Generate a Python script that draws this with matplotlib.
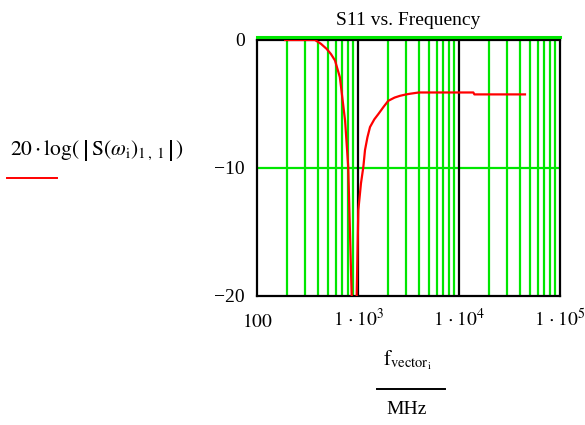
import matplotlib
matplotlib.use("Agg")
import matplotlib.pyplot as plt
import matplotlib.transforms as mtransforms
from matplotlib.lines import Line2D

plt.rcParams['font.family'] = ['Liberation Serif', 'DejaVu Serif']
plt.rcParams['mathtext.fontset'] = 'stix'

# S11 (frequency in MHz, magnitude in dB)
freq_mhz = [190, 250, 320, 375, 430, 490, 540, 592, 661, 745, 800, 866, 915,
            970, 1007, 1070, 1130, 1173, 1240, 1315, 1450, 1585, 1800, 1995,
            2300, 2606, 3000, 3270, 4000, 6000, 10000, 13870, 14200, 30000, 45000]
s11_db = [0.0, 0.0, 0.0, 0.0, -0.3, -0.7, -1.1, -1.6, -2.9, -6.3, -9.9, -20.0, -24.0,
          -20.0, -13.3, -11.2, -9.9, -8.6, -7.6, -6.8, -6.2, -5.8, -5.2, -4.75,
          -4.5, -4.36, -4.25, -4.2, -4.1, -4.1, -4.1, -4.1, -4.25, -4.25, -4.25]

x_ticks = [100, 1e3, 1e4, 1e5]
x_tick_labels = [r'$100$', r'$1\,\cdot10^{3}$', r'$1\,\cdot10^{4}$', r'$1\,\cdot10^{5}$']
y_ticks = [-20, -10, 0]
y_tick_labels = ['\u221220', '\u221210', '0']

fig = plt.figure(figsize=(5.85, 4.25), dpi=100)
W, H = 585, 425
ax = fig.add_axes([257 / W, 1 - 296 / H, 303 / W, 256 / H])

green = '#00e600'
ax.set_xscale('log')
ax.set_xlim(100, 1e5)
ax.set_ylim(-20, 0)

# grid: green minor verticals, black decade lines, green horizontals
for dec in [100, 1000, 10000]:
    for m in range(2, 10):
        ax.axvline(dec * m, color=green, lw=1.6, zorder=1)
for dec in [1000, 10000]:
    ax.axvline(dec, color='black', lw=1.6, zorder=1.5)
ax.axhline(-10, color=green, lw=1.6, zorder=1)
up = mtransforms.offset_copy(ax.get_yaxis_transform(), fig=fig, x=0, y=2.5, units='points')
ax.plot([0, 1], [0, 0], color=green, lw=2.2,
        transform=mtransforms.blended_transform_factory(ax.transAxes, up),
        clip_on=False, zorder=4)

ax.plot(freq_mhz, s11_db, color='red', lw=1.6, zorder=3)

for s in ax.spines.values():
    s.set_linewidth(1.6)
    s.set_color('black')
    s.set_zorder(2)

ax.set_xticks(x_ticks)
ax.set_xticklabels(x_tick_labels, fontsize=14)
ax.set_xticks([], minor=True)
for lab in ax.get_xticklabels():
    lab.set_verticalalignment('baseline')
ax.set_yticks(y_ticks)
ax.set_yticklabels(y_tick_labels, fontsize=14)
ax.tick_params(axis='y', length=0, pad=9)
ax.tick_params(axis='x', length=0, pad=22)

ax.set_title('S11 vs. Frequency', fontsize=14, pad=11)

# y label with legend line
fig.text(10 / W, 1 - 150 / H,
         r'$20\cdot\mathrm{log}\left(\;\left|\,\mathrm{S}\left(\omega_\mathrm{i}\right)_{1\,,\;1}\,\right|\,\right)$',
         fontsize=15.5, ha='left', va='center')
fig.add_artist(Line2D([7 / W, 57 / W], [1 - 178 / H, 1 - 178 / H], color='red', lw=1.4))

# x label as a fraction
fig.text(407 / W, 1 - 360 / H, r'$\mathrm{f}_{\mathrm{vector}_{\mathrm{i}}}$', fontsize=15, ha='center', va='center')
fig.add_artist(Line2D([377 / W, 445 / W], [1 - 389 / H, 1 - 389 / H], color='black', lw=1.4))
fig.text(407 / W, 1 - 410 / H, 'MHz', fontsize=14, ha='center', va='center')

fig.savefig('out.png', dpi=100)
